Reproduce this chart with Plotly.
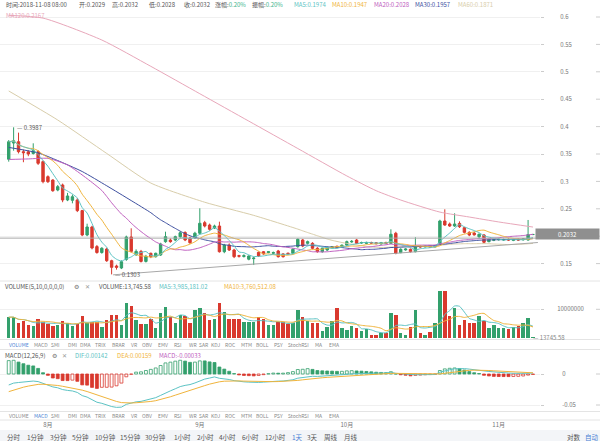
import plotly.graph_objects as go
import numpy as np
import pandas as pd

# ---------------- data ----------------
dates = pd.date_range("2018-07-24", "2018-11-08", freq="D")
opens = [0.3404,0.3700,0.3724,0.3542,0.3540,0.3510,0.3542,0.3360,0.3086,0.3025,
         0.2843,0.2934,0.2661,0.2655,0.2661,0.2467,0.2022,0.2168,0.1810,0.1702,
         0.1766,0.1553,0.1456,0.1420,0.1577,0.1985,0.1662,0.1723,0.1540,0.1688,
         0.1626,0.1657,0.1900,0.1930,0.1930,0.1991,0.2067,0.1967,0.1967,0.2054,
         0.2247,0.2204,0.2149,0.2186,0.1717,0.1839,0.1748,0.1645,0.1630,0.1580,
         0.1590,0.1706,0.1717,0.1700,0.1690,0.1730,0.1676,0.1690,0.1688,0.1809,
         0.1931,0.1870,0.1870,0.1779,0.1717,0.1748,0.1795,0.1815,0.1815,0.1839,
         0.1895,0.1930,0.1875,0.1870,0.1885,0.1880,0.1860,0.1885,0.1870,0.2053,
         0.1700,0.1750,0.1761,0.1718,0.1815,0.1805,0.1815,0.1805,0.1870,0.2277,
         0.2222,0.2186,0.2234,0.2156,0.2070,0.2058,0.1990,0.2022,0.1900,0.1925,
         0.1935,0.1930,0.1944,0.1925,0.1944,0.1935,0.1930,0.2029]
closes = [0.3724,0.3740,0.3542,0.3524,0.3500,0.3560,0.3330,0.2995,0.2995,0.2830,
          0.2904,0.2661,0.2734,0.2720,0.2467,0.2022,0.2168,0.1785,0.1702,0.1780,
          0.1553,0.1432,0.1432,0.1535,0.1985,0.1723,0.1723,0.1540,0.1632,0.1626,
          0.1688,0.1858,0.1991,0.1900,0.1991,0.2063,0.1931,0.1881,0.2054,0.2236,
          0.2186,0.2126,0.2186,0.1717,0.1839,0.1748,0.1626,0.1635,0.1645,0.1639,
          0.1600,0.1640,0.1676,0.1717,0.1700,0.1626,0.1626,0.1680,0.1761,0.1944,
          0.1821,0.1900,0.1779,0.1717,0.1779,0.1797,0.1805,0.1797,0.1833,0.1900,
          0.1905,0.1870,0.1885,0.1880,0.1875,0.1865,0.1880,0.1870,0.2035,0.1688,
          0.1761,0.1765,0.1718,0.1809,0.1805,0.1815,0.1805,0.1820,0.2277,0.2204,
          0.2186,0.2222,0.2173,0.2070,0.2022,0.2025,0.2035,0.1889,0.1944,0.1935,
          0.1944,0.1940,0.1930,0.1935,0.1930,0.1950,0.2029,0.2032]
highs = [0.3755,0.3987,0.3890,0.3580,0.3570,0.3695,0.3570,0.3380,0.3110,0.3040,
         0.2934,0.2960,0.2790,0.2760,0.2700,0.2480,0.2228,0.2190,0.1840,0.1800,
         0.1790,0.1570,0.1480,0.1560,0.2010,0.2144,0.1760,0.1750,0.1660,0.1700,
         0.1700,0.1880,0.2082,0.1960,0.2010,0.2090,0.2090,0.1990,0.2080,0.2509,
         0.2280,0.2230,0.2210,0.2265,0.1860,0.1870,0.1770,0.1660,0.1670,0.1650,
         0.1620,0.1720,0.1730,0.1730,0.1720,0.1750,0.1690,0.1700,0.1780,0.1960,
         0.1950,0.1920,0.1890,0.1800,0.1790,0.1810,0.1820,0.1830,0.1850,0.1920,
         0.1930,0.1950,0.1900,0.1900,0.1900,0.1890,0.1895,0.1900,0.2126,0.2080,
         0.1780,0.1780,0.1775,0.1980,0.1830,0.1830,0.1830,0.1840,0.2300,0.2491,
         0.2250,0.2418,0.2271,0.2170,0.2090,0.2080,0.2050,0.2040,0.1960,0.1950,
         0.1960,0.1955,0.1960,0.1950,0.1960,0.1965,0.2296,0.2032]
lows = [0.3360,0.3560,0.3510,0.3350,0.3460,0.3490,0.3300,0.2965,0.2970,0.2810,
        0.2820,0.2620,0.2640,0.2600,0.2440,0.2000,0.2000,0.1760,0.1680,0.1680,
        0.1530,0.1303,0.1390,0.1400,0.1550,0.1700,0.1640,0.1520,0.1520,0.1600,
        0.1610,0.1640,0.1880,0.1880,0.1910,0.1970,0.1910,0.1860,0.1950,0.2030,
        0.2160,0.2100,0.2130,0.1700,0.1690,0.1730,0.1600,0.1610,0.1610,0.1560,
        0.1474,0.1620,0.1660,0.1690,0.1680,0.1610,0.1610,0.1660,0.1670,0.1790,
        0.1800,0.1850,0.1760,0.1700,0.1700,0.1730,0.1780,0.1780,0.1800,0.1820,
        0.1880,0.1860,0.1860,0.1855,0.1860,0.1850,0.1845,0.1855,0.1860,0.1670,
        0.1690,0.1735,0.1700,0.1705,0.1790,0.1795,0.1790,0.1795,0.1860,0.2190,
        0.2170,0.2170,0.2150,0.2050,0.2000,0.2010,0.1960,0.1870,0.1890,0.1910,
        0.1920,0.1915,0.1915,0.1910,0.1915,0.1920,0.1920,0.2028]
volumes_m = [7.2,7.2,5.0,6.0,4.4,4.1,6.4,5.6,4.8,4.1,
             4.4,5.85,5.0,4.1,4.8,7.7,5.3,5.6,5.6,3.6,
             6.2,8.1,7.9,4.4,12.3,11.2,6.2,4.8,4.8,6.4,
             3.4,8.6,10.7,7.4,5.3,7.9,7.6,5.0,9.75,10.3,
             8.6,6.2,6.4,12.3,8.9,6.6,6.7,6.6,5.4,5.4,
             5.4,7.2,6.4,4.5,4.4,5.6,5.6,4.8,5.0,9.75,
             7.2,6.0,5.0,5.0,2.4,3.6,6.0,10.6,3.3,2.7,
             4.1,3.3,2.2,3.0,0.9,0.9,1.7,1.7,8.8,8.1,
             1.7,0.9,3.6,9.75,1.7,0.9,2.1,5.0,16.5,16.5,
             7.6,10.3,4.4,6.2,5.3,5.0,7.6,6.0,3.3,4.6,
             3.3,3.2,3.0,3.6,4.1,5.3,6.9,0.01374558]

# moving averages that need history before the window: values
ma20_head_k = [0, 4, 8, 12, 16]
ma20_head_v = [0.340, 0.341, 0.342, 0.330, 0.305]
ma30_head_k = [0, 6, 10, 15, 20, 25]
ma30_head_v = [0.362, 0.352, 0.338, 0.318, 0.292, 0.265]
ma60_head_k = [0, 10, 20, 29, 40, 50]
ma60_head_v = [0.465, 0.412, 0.351, 0.297, 0.262, 0.238]
ma120_k = [0, 7, 19, 29, 39, 49, 59, 69, 75, 80, 88, 94, 100, 107]
ma120_v = [0.603, 0.598, 0.558, 0.51, 0.46, 0.41, 0.36, 0.31, 0.283, 0.266, 0.244, 0.235, 0.226, 0.2167]

# MACD state at the first candle
ema12_start = 0.3526
ema26_start = 0.3703
dea_start = -0.0285

# drawn lines
trend_k = [21.3, 108.0]
trend_v = [0.1295, 0.1885]
hline_v = 0.1965

month_k = [8, 39, 69, 100]
month_text = ["8月", "9月", "10月", "11月"]
price_ticks = [0.15, 0.2, 0.25, 0.3, 0.35, 0.4, 0.45, 0.5, 0.55, 0.6]
price_ticktext = ["0.15", "", "0.25", "0.3", "0.35", "0.4", "0.45", "0.5", "0.55", "0.6"]
vol_ticks = [1e7]
macd_ticks = [0, -0.05]

# ---------------- derived ----------------
n = len(closes)
k = np.arange(n)
cs = pd.Series(closes)
vols = np.array(volumes_m) * 1e6
ma5 = cs.rolling(5, min_periods=1).mean()
ma10 = cs.rolling(10, min_periods=1).mean()

def hybrid(head_k, head_v, w):
    r = cs.rolling(w).mean()
    xs = list(head_k) + list(range(w - 1, n))
    ys = list(head_v) + list(r.iloc[w - 1:])
    return xs, ys

ma20x, ma20y = hybrid(ma20_head_k, ma20_head_v, 20)
ma30x, ma30y = hybrid(ma30_head_k, ma30_head_v, 30)
ma60x, ma60y = hybrid(ma60_head_k, ma60_head_v, 60)

vs = pd.Series(vols)
vma5 = vs.rolling(5, min_periods=1).mean()
vma10 = vs.rolling(10, min_periods=1).mean()

e12 = [ema12_start]; e26 = [ema26_start]
for c in closes[1:]:
    e12.append(e12[-1] * 11 / 13 + c * 2 / 13)
    e26.append(e26[-1] * 25 / 27 + c * 2 / 27)
dif = np.array(e12) - np.array(e26)
dea = [dea_start]
for d in dif[1:]:
    dea.append(dea[-1] * 0.8 + d * 0.2)
dea = np.array(dea)
hist = 2 * (dif - dea)

GREEN = "#33a06c"
RED = "#d9392e"
up = [c >= o for o, c in zip(opens, closes)]
vcol = [GREEN if u else RED for u in up]
hcol, hfill = [], []
for i, h in enumerate(hist):
    col = GREEN if h >= 0 else RED
    grow = i == 0 or h >= hist[i - 1]
    hcol.append(col)
    hfill.append("rgba(255,255,255,0)" if grow else col)

C_MA5 = "#5cc3c4"; C_MA10 = "#f0b43c"; C_MA20 = "#c060c0"; C_MA30 = "#3d4f9f"
C_MA60 = "#d8cdaa"; C_MA120 = "#e8a7ba"

fig = go.Figure()
fig.add_trace(go.Candlestick(x=k, open=opens, high=highs, low=lows, close=closes,
    increasing=dict(line=dict(color=GREEN, width=1), fillcolor=GREEN),
    decreasing=dict(line=dict(color=RED, width=1), fillcolor=RED),
    whiskerwidth=0, xaxis="x", yaxis="y", hoverinfo="skip"))
for xs, ys, col in [(ma120_k, ma120_v, C_MA120), (ma60x, ma60y, C_MA60),
                    (ma30x, ma30y, C_MA30), (ma20x, ma20y, C_MA20),
                    (k, ma10, C_MA10), (k, ma5, C_MA5)]:
    fig.add_trace(go.Scatter(x=xs, y=ys, mode="lines", line=dict(color=col, width=1, shape="spline", smoothing=0.6),
                             xaxis="x", yaxis="y", hoverinfo="skip"))

fig.add_trace(go.Bar(x=k, y=vols, marker=dict(color=vcol, line=dict(width=0)), width=0.7,
                     xaxis="x2", yaxis="y2", hoverinfo="skip"))
fig.add_trace(go.Scatter(x=k, y=vma5, mode="lines", line=dict(color=C_MA5, width=1, shape="spline", smoothing=0.6),
                         xaxis="x2", yaxis="y2", hoverinfo="skip"))
fig.add_trace(go.Scatter(x=k, y=vma10, mode="lines", line=dict(color=C_MA10, width=1, shape="spline", smoothing=0.6),
                         xaxis="x2", yaxis="y2", hoverinfo="skip"))

fig.add_trace(go.Bar(x=k, y=hist, marker=dict(color=hfill, line=dict(color=hcol, width=0.8)), width=0.6,
                     xaxis="x3", yaxis="y3", hoverinfo="skip"))
fig.add_trace(go.Scatter(x=k, y=dif, mode="lines", line=dict(color=C_MA5, width=1),
                         xaxis="x3", yaxis="y3", hoverinfo="skip"))
fig.add_trace(go.Scatter(x=k, y=dea, mode="lines", line=dict(color=C_MA10, width=1),
                         xaxis="x3", yaxis="y3", hoverinfo="skip"))

W, H = 600, 441
def py(p):
    return 1 - p / H

xr = [-1.78, 108.43]
FONT = "Noto Sans CJK SC"
axfont = dict(family=FONT, size=6, color="#777")
common_x = dict(range=xr, domain=[0, 0.9], showgrid=False, zeroline=False, showline=False, fixedrange=True)
fig.update_layout(
    width=W, height=H, margin=dict(l=0, r=0, t=0, b=0),
    paper_bgcolor="white", plot_bgcolor="white", showlegend=False,
    bargap=0,
    xaxis=dict(common_x, anchor="y", showticklabels=False, rangeslider=dict(visible=False)),
    xaxis2=dict(common_x, anchor="y2", showticklabels=False),
    xaxis3=dict(common_x, anchor="y3", tickvals=month_k, ticktext=month_text, tickfont=axfont,
                ticks="", ticklabelstandoff=9),
    yaxis=dict(domain=[py(280), py(10)], range=[0.12007, 0.61277], side="right", anchor="x",
               tickvals=price_ticks, ticktext=price_ticktext, tickfont=axfont, ticks="outside", ticklen=3,
               tickcolor="#ccc", showgrid=True, gridcolor="#f0f0f0", zeroline=False, ticklabelstandoff=15),
    yaxis2=dict(domain=[py(338), py(283)], range=[-0.177e6, 19.33e6], side="right", anchor="x2",
                tickvals=vol_ticks, ticktext=["10000000"], tickfont=axfont, ticks="outside", ticklen=3,
                tickcolor="#ccc", showgrid=True, gridcolor="#f0f0f0", zeroline=False, ticklabelstandoff=12),
    yaxis3=dict(domain=[py(411), py(350)], range=[-0.05968, 0.03871], side="right", anchor="x3",
                tickvals=macd_ticks, ticktext=["0", "-0.05"], tickfont=axfont, ticks="outside", ticklen=3,
                tickcolor="#ccc", showgrid=True, gridcolor="#f0f0f0", zeroline=False, ticklabelstandoff=17),
)

shapes = []
# panel separators
for yy in [281, 339.5, 349.5, 411.5, 420]:
    shapes.append(dict(type="line", xref="paper", yref="paper", x0=0, x1=1, y0=py(yy), y1=py(yy),
                       line=dict(color="#e4e4e4", width=1)))
# right-edge tick dashes
for yref, tv in [("y", price_ticks), ("y2", vol_ticks), ("y3", macd_ticks)]:
    for v in tv:
        shapes.append(dict(type="line", xref="paper", yref=yref, x0=596 / W, x1=1, y0=v, y1=v,
                           line=dict(color="#ccc", width=1)))
# bottom bar background
shapes.append(dict(type="rect", xref="paper", yref="paper", x0=0, x1=1, y0=0, y1=py(430),
                   fillcolor="#f3f5f8", line=dict(width=0), layer="below"))
# drawn lines
shapes.append(dict(type="line", xref="x", yref="y", x0=xr[0], x1=xr[1], y0=hline_v, y1=hline_v,
                   line=dict(color="#a8a8a8", width=1)))
shapes.append(dict(type="line", xref="x", yref="y", x0=trend_k[0], x1=trend_k[1], y0=trend_v[0], y1=trend_v[1],
                   line=dict(color="#a8a8a8", width=1)))
fig.update_layout(shapes=shapes)

ann = []
def txt(x, y, s, color="#555", size=6, anchor="left", **kw):
    ann.append(dict(x=x / W, y=py(y), xref="paper", yref="paper", text=s, showarrow=False,
                    xanchor=anchor, yanchor="middle", font=dict(family=FONT, size=size, color=color), **kw))

# top info line
txt(4, 5, "时间:2018-11-08 08:00")
txt(77, 5, "开:0.2029")
txt(110, 5, "高:0.2032")
txt(147, 5, "低:0.2028")
txt(182, 5, "收:0.2032")
txt(213, 5, "涨幅:<span style='color:#3ab28a'>0.20%</span>")
txt(250, 5, "振幅:<span style='color:#3ab28a'>0.20%</span>")
txt(292, 5, "MA5:0.1974", C_MA5)
txt(330, 5, "MA10:0.1947", C_MA10)
txt(372, 5, "MA20:0.2028", C_MA20)
txt(413, 5, "MA30:0.1957", C_MA30)
txt(456, 5, "MA60:0.1871", C_MA60)
txt(4, 15, "MA120:0.2167", C_MA120)

# high / low markers
ann.append(dict(x=1, y=0.3987, xref="x", yref="y", text="— 0.3987", showarrow=False, xanchor="left",
                yanchor="middle", xshift=1, font=dict(family=FONT, size=6, color="#555")))
ann.append(dict(x=21, y=0.1303, xref="x", yref="y", text="— 0.1303", showarrow=False, xanchor="left",
                yanchor="middle", xshift=1, font=dict(family=FONT, size=6, color="#555")))
# last price tag
ann.append(dict(x=1, y=closes[-1], xref="paper", yref="y", text="0.2032", showarrow=False, xanchor="right",
                yanchor="middle", width=61, height=8, bgcolor="#8f8f8f", font=dict(family=FONT, size=6, color="white")))
# current volume marker
ann.append(dict(x=531 / W, y=0, xref="paper", yref="y2", text="— 13745.58", showarrow=False, xanchor="left",
                yanchor="middle", font=dict(family=FONT, size=6, color="#888")))

# volume header
txt(3, 286, "VOLUME(5,10,0,0,0,0)")
txt(72, 286, "⚙", "#777")
txt(83, 286, "✕", "#999")
txt(97, 286, "VOLUME:13,745.58")
txt(157, 286, "MA5:3,985,181.02", C_MA5)
txt(222, 286, "MA10:3,760,512.08", C_MA10)
# macd header
txt(3, 355, "MACD(12,26,9)")
txt(50, 355, "⚙", "#777")
txt(60, 355, "✕", "#999")
txt(73, 355, "DIF:0.00142", C_MA5)
txt(115, 355, "DEA:0.00159", C_MA10)
txt(157, 355, "MACD:-0.00033", C_MA20)

tabs = [("VOLUME", 7), ("MACD", 32), ("SMI", 49), ("DMI", 66), ("DMA", 78), ("TRIX", 93), ("BRAR", 110),
        ("VR", 129), ("OBV", 140), ("EMV", 156), ("RSI", 172), ("WR", 187), ("SAR", 197), ("KDJ", 209),
        ("ROC", 223), ("MTM", 239), ("BOLL", 254), ("PSY", 272), ("StochRSI", 286), ("MA", 313), ("EMA", 327)]
for row_y, active in [(344.5, "VOLUME"), (415.5, "MACD")]:
    for name, x in tabs:
        txt(x, row_y, name, "#4a7fd4" if name == active else "#888", size=5)

periods = [("分时", 5), ("1分钟", 25), ("3分钟", 48), ("5分钟", 70), ("10分钟", 93), ("15分钟", 118),
           ("30分钟", 143), ("1小时", 172), ("2小时", 195), ("4小时", 217), ("6小时", 240), ("12小时", 263),
           ("1天", 290), ("3天", 305), ("周线", 322), ("月线", 342)]
for name, x in periods:
    txt(x, 436.5, name, "#4a7fd4" if name == "1天" else "#555", size=6.5)
txt(565, 436.5, "对数", "#555", size=6.5)
txt(583, 436.5, "自动", "#4a7fd4", size=6.5)

fig.update_layout(annotations=ann)
fig.write_html("out.html", config={"displayModeBar": False, "staticPlot": True},
               post_script="document.body.style.margin='0';document.body.style.padding='0';")
